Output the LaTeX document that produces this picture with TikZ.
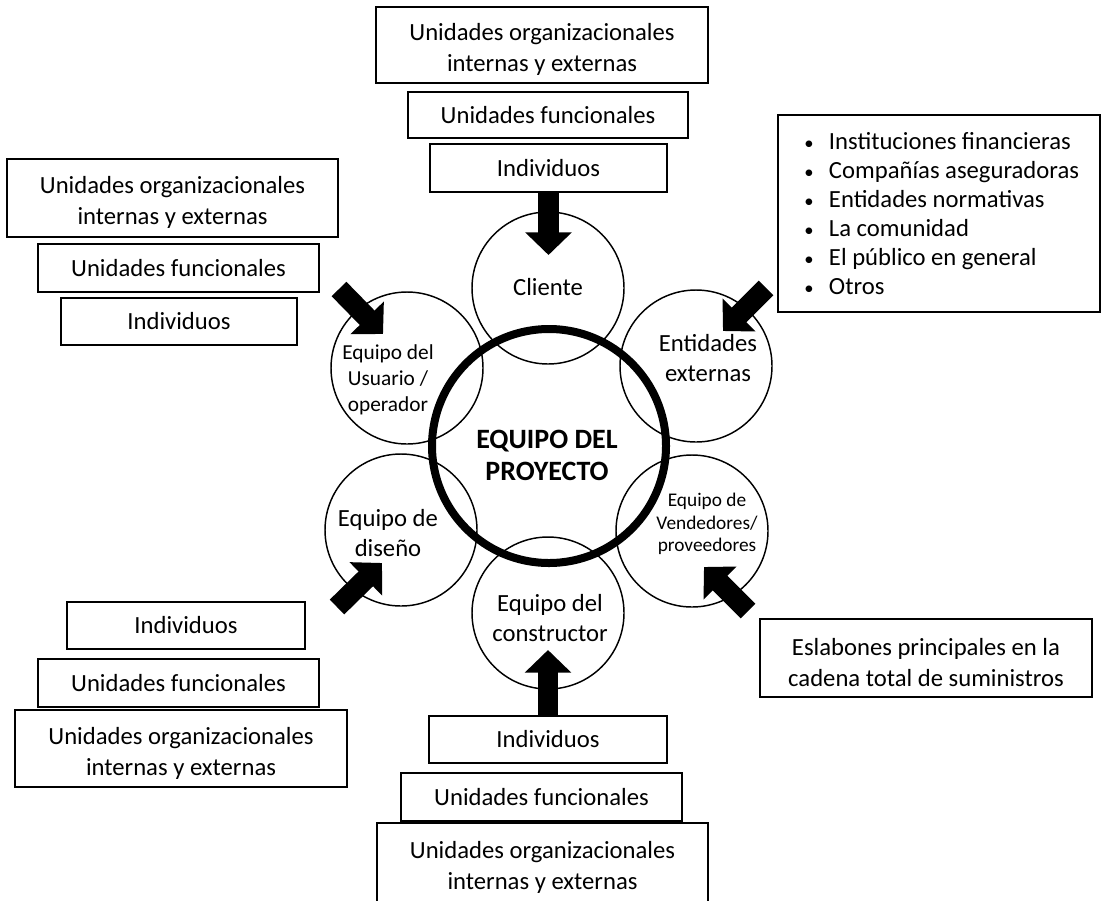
\documentclass[tikz,border=0pt]{standalone}
\usepackage{fontspec}
\setmainfont{Carlito}
\usetikzlibrary{arrows.meta}
\newcommand{\itm}[1]{\makebox[22.5pt][l]{\hspace{4pt}{\fontsize{14}{14}\selectfont\textbullet}}#1}
\newcommand{\baja}[1]{\raisebox{-3.5pt}[\height][\depth]{#1}}
\tikzset{
  caja/.style={draw, line width=1.2pt, inner sep=0pt, align=center, font=\fontsize{18.5}{23.5}\selectfont},
  aro/.style={draw, circle, line width=1.1pt, minimum size=114pt, inner sep=0pt},
  rotulo/.style={align=center, inner sep=0pt, font=\fontsize{18.5}{22}\selectfont},
  rotulochico/.style={align=center, inner sep=0pt, font=\fontsize{15.5}{19}\selectfont},
  flecha/.style={line width=15.5pt, -{Triangle[width=34pt,length=17pt]}}
}
\begin{document}
\begin{tikzpicture}[x=0.75pt,y=-0.75pt]
                    \useasboundingbox (0,0) rectangle (1102,900);
                    \node[aro] (cli) at (548,288) {};
                    \node[aro] (usu) at (407,368) {};
                    \node[aro] (ent) at (696,366) {};
                    \node[aro] (dis) at (401,530) {};
                    \node[aro] (ven) at (692,531) {};
                    \node[aro] (con) at (548,613) {};
                    \node[draw, circle, line width=6pt, minimum size=175.5pt] (proy) at (549,446) {};
                    \node[rotulo] (cliT) at (548,287) {Cliente};
                    \node[rotulochico, font=\fontsize{16}{19.5}\selectfont] (usuT) at (388,380) {Equipo del\\Usuario /\\operador};
                    \node[rotulo] (entT) at (708,358) {Entidades\\externas};
                    \node[rotulo, font=\fontsize{18.5}{22.5}\selectfont] (disT) at (388,533) {Equipo de\\diseño};
                    \node[rotulochico, font=\fontsize{14.5}{17}\selectfont] (venT) at (707,524) {Equipo de\\Vendedores/\\proveedores};
                    \node[rotulo] (conT) at (550,618) {Equipo del\\constructor};
                    \node[rotulo, font=\bfseries\fontsize{21}{24}\selectfont] (proyT) at (547,455) {EQUIPO DEL\\PROYECTO};
                    \node[caja, minimum width=249pt, minimum height=57pt] (orgT) at (542,45) {\baja{Unidades organizacionales}\\\baja{internas y externas}};
                    \node[caja, minimum width=210pt, minimum height=34.5pt] (funT) at (548,115) {Unidades funcionales};
                    \node[caja, minimum width=177.75pt, minimum height=36pt] (indT) at (548.5,168) {Individuos};
                    \node[caja, minimum width=248.25pt, minimum height=58.5pt] (orgL) at (172.5,198) {\baja{Unidades organizacionales}\\\baja{internas y externas}};
                    \node[caja, minimum width=210.75pt, minimum height=36pt] (funL) at (178.5,268) {Unidades funcionales};
                    \node[caja, minimum width=177pt, minimum height=35.25pt] (indL) at (179,321.5) {Individuos};
                    \node[caja, minimum width=178.5pt, minimum height=35.25pt] (indLB) at (186,625.5) {Individuos};
                    \node[caja, minimum width=210.75pt, minimum height=36pt] (funLB) at (178.5,683) {Unidades funcionales};
                    \node[caja, minimum width=249pt, minimum height=57.75pt] (orgLB) at (181,748.5) {\baja{Unidades organizacionales}\\\baja{internas y externas}};
                    \node[caja, minimum width=178.5pt, minimum height=35.25pt] (indB) at (548,739.5) {Individuos};
                    \node[caja, minimum width=210.75pt, minimum height=36pt] (funB) at (541.5,797) {Unidades funcionales};
                    \node[caja, minimum width=248.25pt, minimum height=60pt] (orgB) at (542.5,863) {\baja{Unidades organizacionales}\\\baja{internas y externas}};
                    \node[caja, align=left, minimum width=241.5pt, minimum height=147.75pt, font=\fontsize{18.5}{21.75}\selectfont] (lista) at (939,213.5) {\itm{Instituciones financieras}\\\itm{Compañías aseguradoras}\\\itm{Entidades normativas}\\\itm{La comunidad}\\\itm{El público en general}\\\itm{Otros}};
                    \node[caja, minimum width=249pt, minimum height=58.5pt] (esl) at (926,658) {\baja{Eslabones principales en la}\\\baja{cadena total de suministros}};
                    \coordinate (pC) at (548.5,255);
                    \coordinate (pB) at (548,650);
                    \coordinate (uA) at (339,289);
                    \coordinate (uB) at (383,334);
                    \coordinate (eA) at (766,288);
                    \coordinate (eB) at (723,331);
                    \coordinate (dA) at (337,607);
                    \coordinate (dB) at (382,563);
                    \coordinate (vA) at (748,611);
                    \coordinate (vB) at (704,567);
                    \draw[flecha] (indT.south) -- (pC);
                    \draw[flecha] (indB.north) -- (pB);
                    \draw[flecha] (uA) -- (uB);
                    \draw[flecha] (eA) -- (eB);
                    \draw[flecha] (dA) -- (dB);
                    \draw[flecha] (vA) -- (vB);
                \end{tikzpicture}
\end{document}
